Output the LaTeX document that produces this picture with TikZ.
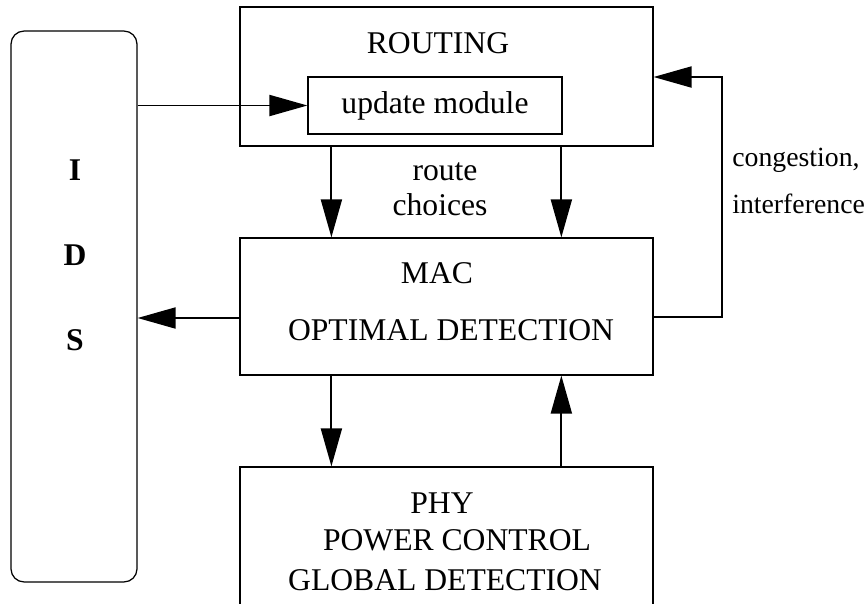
\documentclass[tikz,border=0pt]{standalone}
\usepackage{fontspec}
\setmainfont{Liberation Serif}
\usetikzlibrary{arrows.meta,positioning,calc}

\begin{document}
\begin{tikzpicture}[
x=0.02cm,y=-0.02cm,
font=\fontsize{18}{21}\selectfont,
layer/.style={draw,line width=0.7pt,inner sep=0pt,minimum width=8.26cm},
flow/.style={-{Triangle[length=0.76cm,width=0.42cm]},line width=1.1pt},
lbl/.style={inner sep=0pt},
side/.style={lbl,anchor=west,font=\fontsize{15.8}{19}\selectfont}]
    % page
    \useasboundingbox (0,0) rectangle (867,603);

    % boxes
    \node (ids) [draw,line width=0.7pt,rounded corners=0.26cm,minimum width=2.52cm,minimum height=11.02cm] at (74,306.5) {};
    \node (routing) [layer,minimum height=2.78cm] at (446.5,76.5) {};
    \node (upd) [draw,line width=0.7pt,minimum width=5.08cm,minimum height=1.14cm] at (435,105.5) {update module};
    \node (mac) [layer,minimum height=2.74cm] at (446.5,306.5) {};
    \node (phy) [layer,minimum height=3.46cm] at (446.5,553.5) {};

    % texts
    \node (idsI) [lbl] at (75,170) {\bfseries I};
    \node (idsD) [lbl] at (75,255) {\bfseries D};
    \node (idsS) [lbl] at (75,340) {\bfseries S};
    \node (routingtxt) [lbl] at (438,43) {ROUTING};
    \node (mactxt) [lbl] at (437,273) {MAC};
    \node (optdet) [lbl] at (451,330) {OPTIMAL DETECTION};
    \node (phytxt) [lbl] at (442,503) {PHY};
    \node (powctl) [lbl] at (457,540) {POWER CONTROL};
    \node (globdet) [lbl] at (445,580) {GLOBAL DETECTION};
    \node (route) [lbl] at (445,172) {route};
    \node (choices) [lbl] at (440,205) {choices};
    \node (congest) [side] at (732,160) {congestion,};
    \node (interf) [side] at (732,204) {interference};

    % connectors
    \coordinate (fb) at (722,77);
    \draw[flow] (ids.east |- upd) -- (upd.west);
    \draw[flow] ([xshift=1.84cm]routing.south west) -- ([xshift=1.84cm]mac.north west);
    \draw[flow] ([xshift=6.44cm]routing.south west) -- ([xshift=6.44cm]mac.north west);
    \draw[flow] ([yshift=-0.23cm]mac.west) -- ([yshift=-0.23cm]ids.east);
    \draw[flow] ([yshift=-0.21cm]mac.east) -| (fb) -- (fb -| routing.east);
    \draw[flow] ([xshift=1.84cm]mac.south west) -- ([xshift=1.84cm]phy.north west);
    \draw[flow] ([xshift=6.44cm]phy.north west) -- ([xshift=6.44cm]mac.south west);

\end{tikzpicture}
\end{document}
